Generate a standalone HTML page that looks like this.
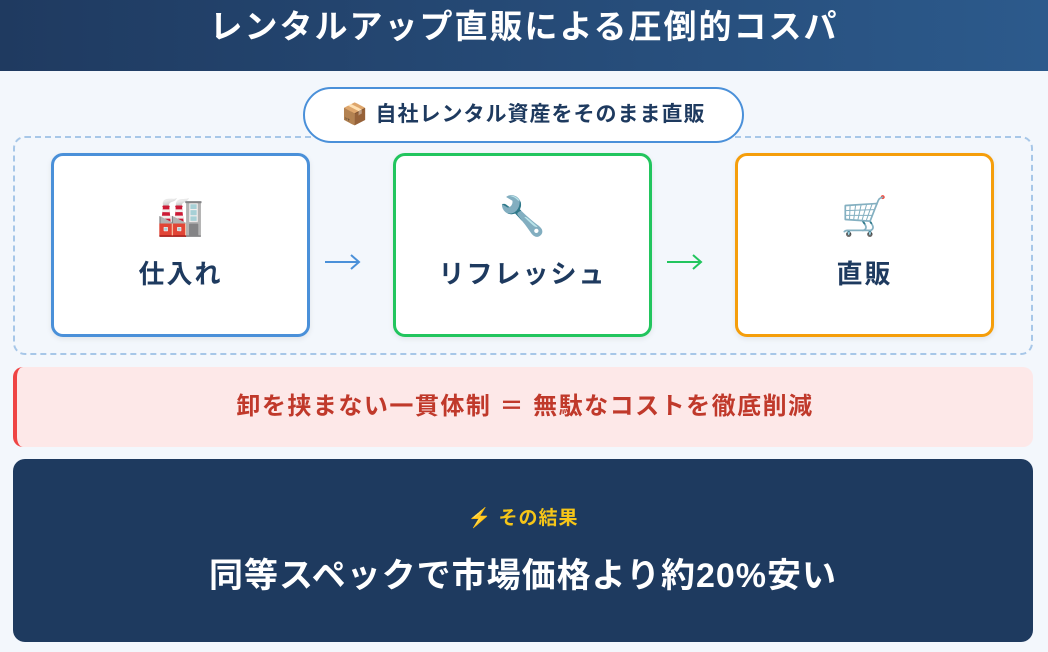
<!DOCTYPE html>
<html><head><meta charset="utf-8"><style>
*{margin:0;padding:0;box-sizing:border-box}
body{width:1048px;height:652px;background:#f3f7fc;font-family:"Liberation Sans","Noto Sans CJK JP",sans-serif;position:relative;overflow:hidden;font-weight:bold}
.hdr{position:absolute;left:0;top:0;width:1048px;height:71px;background:linear-gradient(90deg,#1f3a60,#2c5a8c);color:#fff;font-size:33px;letter-spacing:2px;text-align:center;line-height:54px}
.dash{position:absolute;left:13px;top:136px;width:1020px;height:219px;border:2px dashed #a7c7e8;border-radius:12px}
.pill{position:absolute;left:303px;top:87px;width:441px;height:56px;border:2px solid #4a90d9;border-radius:28px;background:#fff;color:#1e3a5f;font-size:21px;letter-spacing:1px;text-align:center;line-height:52px}
.box{position:absolute;top:153px;width:259px;height:184px;border:3px solid;border-radius:12px;background:#fff;text-align:center;color:#1e3a5f;box-shadow:0 2px 6px rgba(0,0,0,.08)}
.box .ic{font-size:38px;margin-top:36px;height:50px;line-height:50px}
.box .lb{font-size:26px;letter-spacing:2px;margin-top:12px}
.arr{position:absolute;top:252px}
.red{position:absolute;left:13px;top:367px;width:1020px;height:80px;background:#fde8e8;border-left:4px solid #ef4444;border-radius:10px;color:#c0392b;font-size:24px;letter-spacing:1.5px;text-align:center;line-height:80px}
.dark{position:absolute;left:13px;top:459px;width:1020px;height:183px;background:#1e3a5f;border-radius:12px;text-align:center}
.dark .s{color:#f5c518;font-size:19px;letter-spacing:1px;margin-top:44px}
.dark .m{color:#fff;font-size:34px;letter-spacing:1px;margin-top:18px}
</style></head><body>
<div class="hdr">レンタルアップ直販による圧倒的コスパ</div>
<div class="dash"></div>
<div class="pill">📦 自社レンタル資産をそのまま直販</div>
<div class="box" style="left:51px;border-color:#4a90d9"><div class="ic">🏭</div><div class="lb">仕入れ</div></div>
<svg class="arr" style="left:324px" width="38" height="20"><path d="M1 10H35M27 3L35 10L27 17" stroke="#4a90d9" stroke-width="2" fill="none"/></svg>
<div class="box" style="left:393px;border-color:#22c55e"><div class="ic">🔧</div><div class="lb">リフレッシュ</div></div>
<svg class="arr" style="left:666px" width="38" height="20"><path d="M1 10H35M27 3L35 10L27 17" stroke="#22c55e" stroke-width="2" fill="none"/></svg>
<div class="box" style="left:735px;border-color:#f59e0b"><div class="ic">🛒</div><div class="lb">直販</div></div>
<div class="red">卸を挟まない一貫体制 ＝ 無駄なコストを徹底削減</div>
<div class="dark"><div class="s">⚡ その結果</div><div class="m">同等スペックで市場価格より約20%安い</div></div>
</body></html>
